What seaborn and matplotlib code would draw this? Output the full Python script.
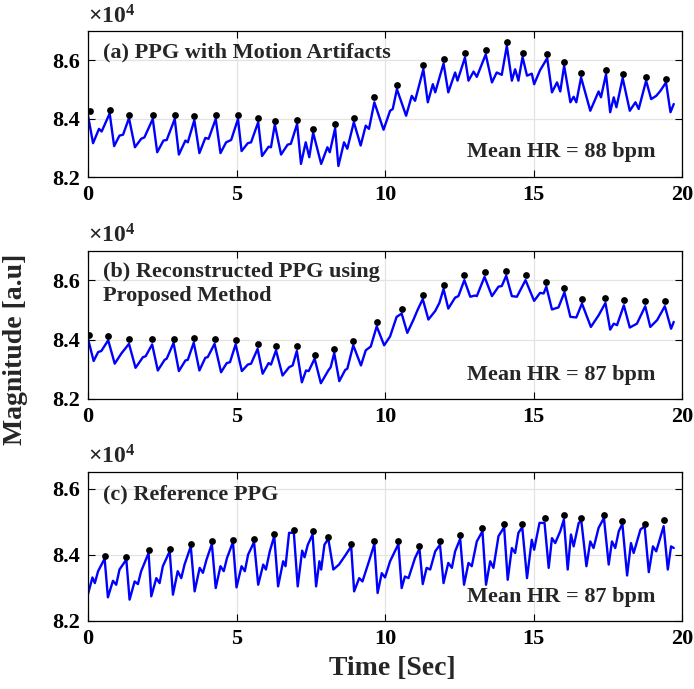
import numpy as np
import pandas as pd
import matplotlib
matplotlib.use('Agg')
import matplotlib.pyplot as plt
import seaborn as sns

sns.set_style('whitegrid')
plt.rcParams['font.family'] = ['Liberation Serif', 'DejaVu Serif']
plt.rcParams['font.weight'] = 'bold'
plt.rcParams['mathtext.fontset'] = 'custom'
plt.rcParams['mathtext.rm'] = 'Liberation Serif:bold'
plt.rcParams['mathtext.default'] = 'rm'

# ---------------------------------------------------------------
# data (values in units of 1e4)
# ---------------------------------------------------------------
# (a) PPG with motion artifacts
t_a = [0.00, 0.17, 0.37, 0.46, 0.73, 0.88, 1.06, 1.18, 1.38, 1.58, 1.79, 1.90,
       2.18, 2.33, 2.54, 2.65, 2.92, 3.06, 3.28, 3.36, 3.58, 3.75, 3.95, 4.06,
       4.30, 4.46, 4.65, 4.82, 5.05, 5.17, 5.38, 5.49, 5.73, 5.86, 6.08, 6.16,
       6.29, 6.50, 6.72, 6.83, 7.04, 7.17, 7.33, 7.45, 7.58, 7.85, 8.06, 8.14,
       8.32, 8.43, 8.62, 8.73, 8.95, 9.18, 9.35, 9.46, 9.64, 9.95, 10.17, 10.26,
       10.40, 10.71, 10.90, 11.01, 11.29, 11.44, 11.61, 11.69, 11.97, 12.13, 12.36, 12.44,
       12.69, 12.81, 12.98, 13.09, 13.39, 13.60, 13.76, 13.93, 14.10, 14.27, 14.38, 14.49,
       14.63, 14.78, 14.94, 15.02, 15.22, 15.46, 15.62, 15.79, 15.90, 16.03, 16.24, 16.35,
       16.44, 16.60, 16.91, 17.19, 17.27, 17.44, 17.58, 17.70, 17.79, 18.00, 18.24, 18.43,
       18.54, 18.79, 18.96, 19.13, 19.27, 19.46, 19.61, 19.72]
v_a = [8.410, 8.316, 8.365, 8.356, 8.418, 8.306, 8.342, 8.345, 8.402, 8.302, 8.331, 8.336,
       8.399, 8.285, 8.325, 8.327, 8.399, 8.277, 8.325, 8.319, 8.395, 8.282, 8.334, 8.331,
       8.399, 8.282, 8.319, 8.327, 8.399, 8.289, 8.316, 8.319, 8.388, 8.272, 8.304, 8.302,
       8.380, 8.277, 8.311, 8.314, 8.382, 8.245, 8.319, 8.268, 8.352, 8.245, 8.302, 8.285,
       8.367, 8.238, 8.319, 8.297, 8.388, 8.308, 8.376, 8.365, 8.456, 8.362, 8.427, 8.433,
       8.501, 8.410, 8.478, 8.461, 8.569, 8.456, 8.518, 8.490, 8.589, 8.490, 8.558, 8.530,
       8.609, 8.530, 8.561, 8.543, 8.620, 8.524, 8.558, 8.550, 8.649, 8.530, 8.569, 8.530,
       8.611, 8.547, 8.554, 8.518, 8.566, 8.607, 8.490, 8.524, 8.493, 8.581, 8.456, 8.475,
       8.456, 8.541, 8.427, 8.493, 8.473, 8.552, 8.422, 8.473, 8.439, 8.539, 8.427, 8.456,
       8.433, 8.530, 8.467, 8.478, 8.495, 8.524, 8.422, 8.450]
pk_t_a = [0.06, 0.73, 1.38, 2.20, 2.92, 3.58, 4.30, 5.05, 5.73, 6.29, 7.04, 7.58, 8.32,
          8.95, 9.64, 10.40, 11.29, 11.97, 12.69, 13.39, 14.10, 14.63, 15.46, 16.03,
          16.60, 17.44, 18.00, 18.79, 19.46]
pk_v_a = [8.425, 8.430, 8.413, 8.414, 8.414, 8.409, 8.413, 8.414, 8.401, 8.393, 8.397,
          8.364, 8.382, 8.403, 8.473, 8.515, 8.583, 8.603, 8.624, 8.635, 8.662, 8.624,
          8.620, 8.595, 8.555, 8.567, 8.552, 8.542, 8.537]

# (b) reconstructed PPG
t_b = [0.00, 0.19, 0.34, 0.45, 0.68, 0.90, 1.12, 1.38, 1.60, 1.85, 1.94, 2.16,
       2.35, 2.58, 2.65, 2.88, 3.06, 3.28, 3.36, 3.56, 3.75, 3.95, 4.03, 4.26,
       4.48, 4.67, 4.78, 4.97, 5.18, 5.38, 5.49, 5.71, 5.88, 6.08, 6.16, 6.33,
       6.55, 6.77, 6.89, 7.03, 7.20, 7.34, 7.43, 7.63, 7.84, 8.09, 8.17, 8.29,
       8.46, 8.66, 8.73, 8.93, 9.19, 9.35, 9.52, 9.72, 9.97, 10.17, 10.39, 10.56,
       10.75, 10.96, 11.09, 11.27, 11.46, 11.69, 11.83, 11.97, 12.13, 12.36, 12.47, 12.67,
       12.87, 13.03, 13.09, 13.35, 13.60, 13.82, 13.93, 14.08, 14.27, 14.44, 14.73, 15.02,
       15.22, 15.34, 15.43, 15.62, 15.84, 16.04, 16.24, 16.44, 16.63, 16.93, 17.19, 17.42,
       17.58, 17.70, 17.81, 18.04, 18.24, 18.48, 18.76, 18.93, 19.16, 19.42, 19.63, 19.72]
v_b = [8.403, 8.328, 8.358, 8.362, 8.398, 8.319, 8.353, 8.386, 8.305, 8.341, 8.344, 8.384,
       8.296, 8.332, 8.336, 8.389, 8.294, 8.330, 8.332, 8.390, 8.296, 8.339, 8.341, 8.386,
       8.290, 8.321, 8.324, 8.384, 8.294, 8.316, 8.319, 8.369, 8.285, 8.321, 8.316, 8.364,
       8.279, 8.307, 8.313, 8.362, 8.256, 8.296, 8.294, 8.336, 8.253, 8.296, 8.307, 8.355,
       8.260, 8.298, 8.302, 8.381, 8.313, 8.364, 8.377, 8.445, 8.381, 8.411, 8.477, 8.488,
       8.423, 8.468, 8.499, 8.537, 8.468, 8.497, 8.524, 8.571, 8.505, 8.542, 8.547, 8.601,
       8.545, 8.549, 8.547, 8.612, 8.547, 8.579, 8.581, 8.616, 8.547, 8.545, 8.601, 8.531,
       8.558, 8.556, 8.579, 8.502, 8.509, 8.560, 8.477, 8.475, 8.522, 8.443, 8.482, 8.524,
       8.434, 8.454, 8.449, 8.516, 8.441, 8.454, 8.513, 8.443, 8.466, 8.513, 8.437, 8.460]
pk_t_b = [0.03, 0.68, 1.38, 2.16, 2.88, 3.56, 4.26, 4.97, 5.71, 6.33, 7.03, 7.63, 8.29,
          8.93, 9.72, 10.56, 11.27, 11.97, 12.67, 13.35, 14.08, 14.73, 15.43, 16.04,
          16.63, 17.42, 18.04, 18.76, 19.42]
pk_v_b = [8.417, 8.414, 8.403, 8.401, 8.403, 8.406, 8.402, 8.400, 8.384, 8.379, 8.377,
          8.349, 8.369, 8.394, 8.460, 8.503, 8.551, 8.586, 8.618, 8.628, 8.632, 8.617,
          8.594, 8.576, 8.538, 8.542, 8.533, 8.530, 8.530]

# (c) reference PPG
t_c = [0.00, 0.15, 0.23, 0.34, 0.56, 0.67, 0.84, 0.95, 1.06, 1.29, 1.40, 1.57,
       1.68, 1.79, 2.04, 2.13, 2.30, 2.41, 2.52, 2.75, 2.86, 3.02, 3.14, 3.25,
       3.46, 3.59, 3.76, 3.87, 3.99, 4.17, 4.30, 4.46, 4.57, 4.68, 4.88, 5.00,
       5.17, 5.28, 5.39, 5.59, 5.73, 5.90, 5.99, 6.12, 6.27, 6.40, 6.57, 6.65,
       6.77, 6.93, 7.06, 7.21, 7.29, 7.40, 7.56, 7.68, 7.79, 7.85, 7.96, 8.09,
       8.26, 8.45, 8.68, 8.86, 8.96, 9.13, 9.24, 9.46, 9.64, 9.75, 9.89, 10.00,
       10.17, 10.45, 10.56, 10.67, 10.79, 11.01, 11.16, 11.27, 11.40, 11.52, 11.69, 11.85,
       11.97, 12.13, 12.25, 12.36, 12.53, 12.66, 12.81, 12.92, 13.09, 13.28, 13.40, 13.54,
       13.65, 13.82, 14.01, 14.13, 14.27, 14.38, 14.49, 14.62, 14.78, 14.94, 15.02, 15.20,
       15.37, 15.51, 15.62, 15.73, 15.90, 16.02, 16.15, 16.26, 16.35, 16.52, 16.61, 16.78,
       16.91, 17.02, 17.19, 17.37, 17.53, 17.64, 17.75, 17.87, 17.99, 18.15, 18.28, 18.37,
       18.60, 18.74, 18.88, 19.02, 19.13, 19.38, 19.52, 19.63, 19.72]
v_c = [8.281, 8.331, 8.314, 8.350, 8.388, 8.271, 8.321, 8.309, 8.355, 8.385, 8.264, 8.319,
       8.311, 8.350, 8.405, 8.274, 8.329, 8.314, 8.365, 8.410, 8.279, 8.350, 8.329, 8.370,
       8.425, 8.289, 8.360, 8.345, 8.385, 8.432, 8.299, 8.365, 8.350, 8.390, 8.438, 8.301,
       8.365, 8.350, 8.400, 8.438, 8.309, 8.370, 8.355, 8.410, 8.456, 8.304, 8.380, 8.365,
       8.466, 8.466, 8.304, 8.412, 8.392, 8.430, 8.461, 8.304, 8.380, 8.355, 8.430, 8.448,
       8.355, 8.370, 8.400, 8.425, 8.289, 8.329, 8.319, 8.380, 8.432, 8.284, 8.344, 8.331,
       8.380, 8.432, 8.299, 8.334, 8.329, 8.390, 8.418, 8.311, 8.360, 8.355, 8.410, 8.430,
       8.314, 8.375, 8.360, 8.410, 8.448, 8.309, 8.375, 8.365, 8.440, 8.471, 8.309, 8.380,
       8.360, 8.456, 8.483, 8.324, 8.420, 8.405, 8.466, 8.483, 8.329, 8.445, 8.415, 8.496,
       8.496, 8.360, 8.450, 8.435, 8.471, 8.506, 8.355, 8.461, 8.425, 8.496, 8.501, 8.365,
       8.440, 8.420, 8.481, 8.511, 8.370, 8.440, 8.420, 8.471, 8.493, 8.337, 8.435, 8.405,
       8.476, 8.486, 8.347, 8.425, 8.410, 8.486, 8.355, 8.425, 8.420]
pk_t_c = [0.56, 1.29, 2.04, 2.75, 3.46, 4.17, 4.88, 5.59, 6.27, 6.93, 7.56, 8.09, 8.86,
          9.64, 10.45, 11.16, 11.85, 12.53, 13.28, 14.01, 14.62, 15.37, 16.02, 16.61,
          17.37, 17.99, 18.74, 19.40]
pk_v_c = [8.397, 8.394, 8.413, 8.418, 8.432, 8.440, 8.445, 8.446, 8.463, 8.475, 8.471,
          8.454, 8.432, 8.440, 8.440, 8.425, 8.440, 8.459, 8.480, 8.493, 8.493, 8.511,
          8.520, 8.512, 8.520, 8.503, 8.494, 8.504]

panels = [
    ('(a) PPG with Motion Artifacts', 'Mean HR = 88 bpm', t_a, v_a, pk_t_a, pk_v_a, 8.7),
    ('(b) Reconstructed PPG using\nProposed Method', 'Mean HR = 87 bpm', t_b, v_b, pk_t_b, pk_v_b, 8.7),
    ('(c) Reference PPG', 'Mean HR = 87 bpm', t_c, v_c, pk_t_c, pk_v_c, 8.65),
]

# axes boxes in figure fractions [left, bottom, width, height]
boxes = [[0.1268, 0.743, 0.856, 0.212],
         [0.1268, 0.421, 0.856, 0.215],
         [0.1268, 0.099, 0.856, 0.216]]
title_y = [0.856, 0.777, 0.846]
hr_y = [0.171, 0.162, 0.161]

fig = plt.figure(figsize=(6.94, 6.89), dpi=100)

for i, (title, hr, t, v, pt, pv, ytop) in enumerate(panels):
    ax = fig.add_axes(boxes[i])
    sig = pd.DataFrame({'t': t, 'v': v})
    pks = pd.DataFrame({'t': pt, 'v': pv})
    sns.lineplot(data=sig, x='t', y='v', sort=False, estimator=None,
                 color='#0000ff', linewidth=1.7, ax=ax)
    sns.scatterplot(data=pks, x='t', y='v', color='black', s=24,
                    edgecolor='black', linewidth=0, zorder=3, ax=ax)

    ax.set_xlim(0, 20)
    ax.set_ylim(8.2, ytop)
    ax.set_xticks([0, 5, 10, 15, 20])
    ax.set_yticks([8.2, 8.4, 8.6])
    ax.set_yticklabels(['8.2', '8.4', '8.6'])
    ax.set_xlabel('')
    ax.set_ylabel('')
    ax.grid(True, color='#e3e3e3', linewidth=0.9)
    for sp in ax.spines.values():
        sp.set_visible(True)
        sp.set_color('black')
        sp.set_linewidth(0.9)
    ax.tick_params(direction='in', length=5, width=0.8, top=True, right=True,
                   bottom=True, left=True, labelsize=16, pad=6, colors='black')
    for lab in ax.get_xticklabels() + ax.get_yticklabels():
        lab.set_fontweight('bold')

    ax.text(0.025, title_y[i], title, transform=ax.transAxes, fontsize=16,
            fontweight='bold', ha='left', va='center', linespacing=1.25)
    ax.text(0.638, hr_y[i], hr, transform=ax.transAxes, fontsize=16,
            fontweight='bold', ha='left', va='center')
    ax.text(0.0, 1.02, r'$\times$10$^{4}$', transform=ax.transAxes, fontsize=17,
            ha='left', va='bottom')

fig.text(0.566, 0.03, 'Time [Sec]', fontsize=20, fontweight='bold',
         ha='center', va='center')
fig.text(0.022, 0.493, 'Magnitude [a.u]', fontsize=20, fontweight='bold',
         ha='center', va='center', rotation=90)

plt.savefig('out.png', dpi=100)
plt.close()
